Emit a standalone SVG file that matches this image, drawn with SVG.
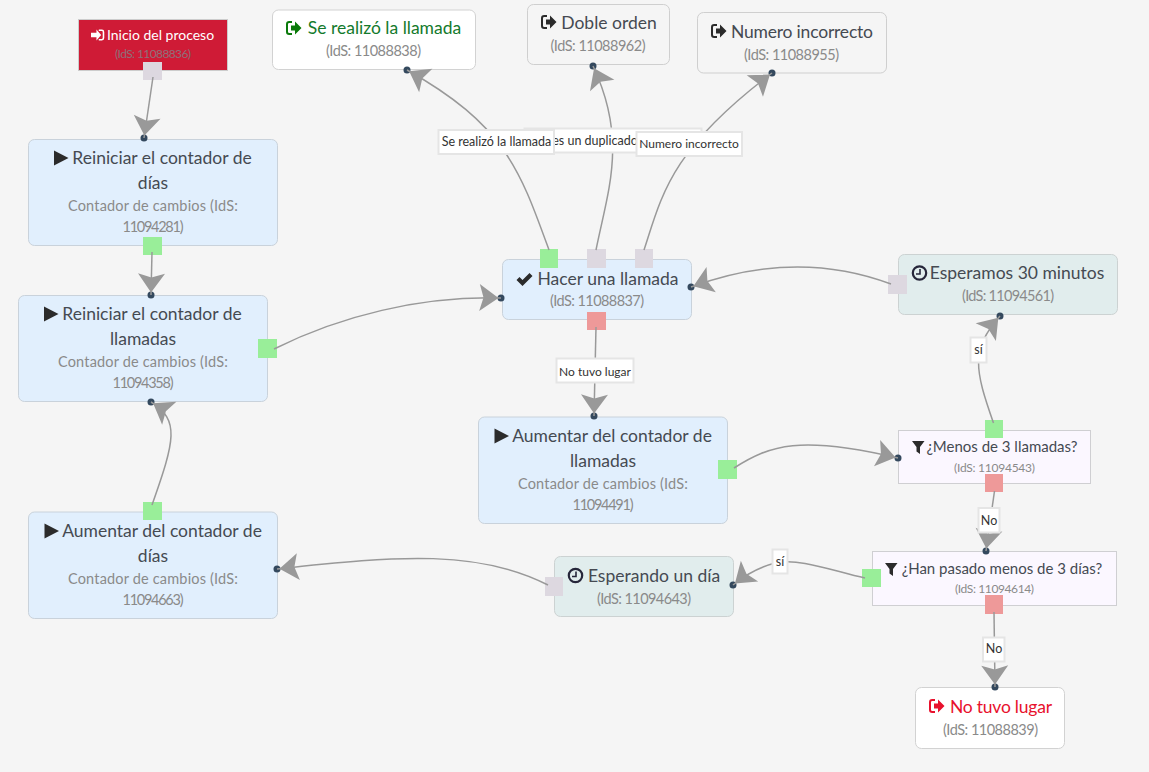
<svg xmlns="http://www.w3.org/2000/svg" width="1149" height="772" viewBox="0 0 1149 772">
<style>
text{font-family:"Lato","Liberation Sans",sans-serif}
.t{font-size:17.5px;fill:#454a52;text-anchor:middle}
.s{font-size:14.5px;fill:#8a8a8a;text-anchor:middle}
.f{font-size:15px;fill:#454a52;text-anchor:middle}
.fs{font-size:12px;fill:#8a8a8a;text-anchor:middle}
.n{stroke-width:1}
.blue{fill:#e1effd;stroke:#c9d2db}
.teal{fill:#e1eded;stroke:#ccd2d2}
.lilac{fill:#fbf7ff;stroke:#cfcfd2}
.white{fill:#fff;stroke:#d2d2d2}
.plain{fill:#f5f5f5;stroke:#cfcfcf}
.g{fill:#99ee99}.r{fill:#ee9999}.v{fill:#ddd8e0}
.c{fill:none;stroke:#999;stroke-width:1.5;marker-end:url(#arr)}
.d{fill:#34495e}
.l rect{fill:#fff;stroke:#e5e5e5;stroke-width:2}
.l text{font-size:12.5px;fill:#333;text-anchor:middle}
.ic{fill:#2b2b2b;color:#2b2b2b}
</style>
<defs>
<marker id="arr" markerUnits="userSpaceOnUse" markerWidth="40" markerHeight="40" refX="2.500" refY="0" orient="auto" overflow="visible"><path d="M0,0L-19,-13.500L-15,0L-19,13.500Z" fill="#999"/></marker>
<path id="play" d="M0,-7.500L14.500,0L0,7.500Z"/>
<path id="check" d="M0,1L3,-2L6,1L13,-6L16,-3L6,7Z"/>
<g id="out"><path d="M6,-6H3.200Q1,-6 1,-3.800V3.800Q1,6 3.200,6H6" fill="none" stroke="currentColor" stroke-width="2"/><path d="M5,-2.500H9V-6.500L15.500,0L9,6.500V2.500H5Z" fill="currentColor"/></g>
<path id="filter" d="M0,-6H12.500L8,0V7L4.500,4.500V0Z"/>
<g id="clock"><circle r="6.700" fill="none" stroke="#26263a" stroke-width="2.200"/><path d="M0.500,-4V1H-3.500" fill="none" stroke="#26263a" stroke-width="1.600"/></g>
</defs>
<rect width="1149" height="772" fill="#f5f5f5"/>

<g id="n11088836"><rect class="n" x="78.500" y="19.500" width="149" height="51" fill="#cf1b36" stroke="#ccc"/><path transform="translate(91,35) scale(.78)" fill="#fff" d="M0,-3H7V-7L13,0L7,7V3H0ZM10,-7H14Q17,-7 17,-4V4Q17,7 14,7H10V5H14Q15,5 15,4V-4Q15,-5 14,-5H10Z"/><text x="160.500" y="40" font-size="14" fill="#fff" text-anchor="middle">Inicio del proceso</text><text x="153" y="58" class="fs" style="fill:#8e7079" textLength="76">(IdS: 11088836)</text><rect class="v" x="143" y="62" width="19" height="18"/></g>

<g id="n11088838"><rect class="n white" x="272.500" y="10" width="203" height="59.500" rx="6"/><use href="#out" x="286" y="28" style="color:#0a7a0a"/><text x="384.500" y="34" class="t" style="fill:#137a2c">Se realizó la llamada</text><text x="373.500" y="56" class="s" textLength="95">(IdS: 11088838)</text></g>

<g id="n11088962"><rect class="n plain" x="527.500" y="4.500" width="142" height="60" rx="6"/><use href="#out" x="541" y="22" class="ic"/><text x="609" y="29" class="t">Doble orden</text><text x="598" y="51" class="s" textLength="95">(IdS: 11088962)</text></g>

<g id="n11088955"><rect class="n plain" x="697.500" y="12.500" width="189" height="60.500" rx="6"/><use href="#out" x="711" y="31" class="ic"/><text x="802" y="38" class="t" textLength="142">Numero incorrecto</text><text x="791.500" y="60" class="s" textLength="95">(IdS: 11088955)</text></g>

<g id="n11094281"><rect class="n blue" x="28.500" y="139.500" width="249" height="106" rx="6"/><use href="#play" x="54" y="158" class="ic"/><text x="162" y="164" class="t">Reiniciar el contador de</text><text x="153" y="189" class="t">días</text><text x="153" y="211" class="s" textLength="170">Contador de cambios (IdS:</text><text x="153" y="232" class="s" textLength="61">11094281)</text><rect class="g" x="143" y="237" width="19" height="18"/></g>

<g id="n11094358"><rect class="n blue" x="18.500" y="295.500" width="249" height="106" rx="6"/><use href="#play" x="44" y="314" class="ic"/><text x="152" y="320" class="t">Reiniciar el contador de</text><text x="143" y="345" class="t">llamadas</text><text x="143" y="367" class="s" textLength="170">Contador de cambios (IdS:</text><text x="143" y="388" class="s" textLength="61">11094358)</text><rect class="g" x="258" y="339" width="19" height="19"/></g>

<g id="n11088837"><rect class="n blue" x="502.500" y="259.500" width="189" height="60" rx="6"/><use href="#check" x="516.500" y="279" class="ic"/><text x="608" y="284.500" class="t">Hacer una llamada</text><text x="597" y="306" class="s" textLength="94">(IdS: 11088837)</text><rect class="g" x="540" y="249" width="18" height="19"/><rect class="v" x="587" y="249" width="19" height="19"/><rect class="v" x="635" y="249" width="18" height="19"/><rect class="r" x="587" y="312" width="19" height="18"/></g>

<g id="n11094561"><rect class="n teal" x="898.500" y="254.500" width="219" height="60" rx="6"/><use href="#clock" x="919.500" y="273"/><text x="1017" y="279" class="t">Esperamos 30 minutos</text><text x="1008" y="301" class="s" textLength="92">(IdS: 11094561)</text><rect class="v" x="888" y="275" width="19" height="19"/></g>

<g id="n11094491"><rect class="n blue" x="478.500" y="417" width="249" height="106.500" rx="6"/><use href="#play" x="494.500" y="436" class="ic"/><text x="612" y="442" class="t">Aumentar del contador de</text><text x="603" y="467" class="t">llamadas</text><text x="603" y="489" class="s" textLength="170">Contador de cambios (IdS:</text><text x="603" y="510" class="s" textLength="61">11094491)</text><rect class="g" x="718" y="460" width="19" height="19"/></g>

<g id="n11094543"><rect class="n lilac" x="898.500" y="430.500" width="192" height="53"/><use href="#filter" x="912" y="447" class="ic"/><text x="1002" y="452" class="f">¿Menos de 3 llamadas?</text><text x="994.500" y="472" class="fs" textLength="81">(IdS: 11094543)</text><rect class="g" x="985" y="420" width="18" height="18"/><rect class="r" x="985" y="474" width="18" height="18"/></g>

<g id="n11094614"><rect class="n lilac" x="872.500" y="551.500" width="244" height="54"/><use href="#filter" x="885" y="569" class="ic"/><text x="1002" y="574" class="f">¿Han pasado menos de 3 días?</text><text x="994.500" y="593" class="fs" textLength="79">(IdS: 11094614)</text><rect class="g" x="862" y="569" width="19" height="18"/><rect class="r" x="985" y="595" width="18" height="19"/></g>

<g id="n11088839"><rect class="n white" x="915.500" y="687.500" width="149" height="61" rx="6"/><use href="#out" x="929" y="706" style="color:#e8112d"/><text x="1001" y="713" class="t" style="fill:#e8112d" textLength="102">No tuvo lugar</text><text x="990.500" y="735" class="s" textLength="95">(IdS: 11088839)</text></g>

<g id="n11094663"><rect class="n blue" x="28.500" y="512" width="249" height="106.500" rx="6"/><use href="#play" x="44.500" y="531" class="ic"/><text x="162" y="537" class="t">Aumentar del contador de</text><text x="153" y="562" class="t">días</text><text x="153" y="584" class="s" textLength="170">Contador de cambios (IdS:</text><text x="153" y="605" class="s" textLength="61">11094663)</text><rect class="g" x="143" y="502" width="19" height="18"/></g>

<g id="n11094643"><rect class="n teal" x="554.500" y="556.500" width="179" height="60" rx="6"/><use href="#clock" x="575.500" y="575.500"/><text x="654" y="582" class="t">Esperando un día</text><text x="644" y="604" class="s" textLength="94">(IdS: 11094643)</text><rect class="v" x="545" y="577" width="18" height="19"/></g>

<g id="connectors">
<circle class="d" cx="144" cy="138" r="3.500"/><circle class="d" cx="151" cy="295" r="3.500"/><circle class="d" cx="501" cy="298" r="3.500"/><circle class="d" cx="407" cy="70" r="3.500"/><circle class="d" cx="593" cy="66" r="3.500"/><circle class="d" cx="772" cy="73" r="3.500"/><circle class="d" cx="691" cy="287" r="3.500"/><circle class="d" cx="594" cy="416" r="3.500"/><circle class="d" cx="898" cy="458" r="3.500"/><circle class="d" cx="1000" cy="316" r="3.500"/><circle class="d" cx="986" cy="551" r="3.500"/><circle class="d" cx="995" cy="687" r="3.500"/><circle class="d" cx="733" cy="585" r="3.500"/><circle class="d" cx="277" cy="569" r="3.500"/><circle class="d" cx="151" cy="402" r="3.500"/>
<path class="c" d="M153,77L144,138"/>
<path class="c" d="M152,252L151,295"/>
<path class="c" d="M274,349C340,316 420,296 501,298"/>
<path class="c" d="M549,250C520,170 505,125 407,70"/>
<path class="c" d="M596,250C608,190 628,140 593,66"/>
<path class="c" d="M644,250C662,195 670,150 772,73"/>
<path class="c" d="M891,284C835,263 770,258 691,287"/>
<path class="c" d="M596,327L594,416"/>
<path class="c" d="M734,468C770,445 800,435 898,458"/>
<path class="c" d="M993.500,423C975,370 970,350 1000,316"/>
<path class="c" d="M994.500,491L986,551"/>
<path class="c" d="M994,612L995,687"/>
<path class="c" d="M865,578C830,570 800,558 775,563C760,567 745,575 733,585"/>
<path class="c" d="M548,585C480,550 400,555 277,569"/>
<path class="c" d="M152,505C175,440 180,420 151,402"/>
</g>

<g id="labels">
<g class="l"><rect x="524.500" y="128.500" width="177" height="24"/><text x="595" y="145">es un duplicado</text></g>
<g class="l"><rect x="438.500" y="130" width="115.500" height="24"/><text x="496.500" y="146">Se realizó la llamada</text></g>
<g class="l"><rect x="636.500" y="132" width="105.500" height="24"/><text x="689" y="148" style="font-size:12px">Numero incorrecto</text></g>
<g class="l"><rect x="556.500" y="358.500" width="77" height="24"/><text x="595" y="375.500" style="font-size:12px">No tuvo lugar</text></g>
<g class="l"><rect x="970.500" y="337.500" width="16" height="25"/><text x="978.500" y="354">sí</text></g>
<g class="l"><rect x="978.500" y="508" width="21" height="24.500"/><text x="989" y="524.500">No</text></g>
<g class="l"><rect x="772.500" y="549.500" width="15" height="24"/><text x="780" y="566">sí</text></g>
<g class="l"><rect x="983" y="637.500" width="21.500" height="24"/><text x="994" y="652.500">No</text></g>
</g>
</svg>
